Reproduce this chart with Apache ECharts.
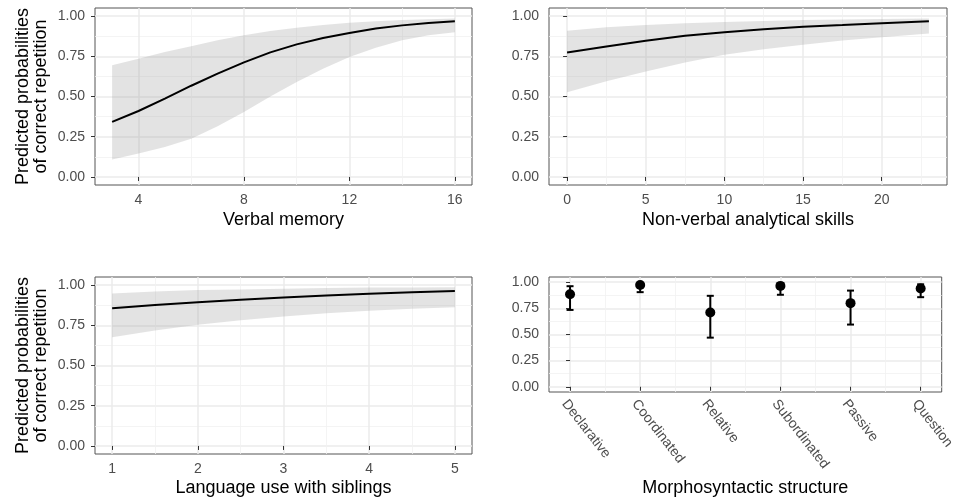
<!DOCTYPE html>
<html>
<head>
<meta charset="utf-8">
<script src="https://cdn.jsdelivr.net/npm/echarts@6/dist/echarts.min.js"></script>
<style>
  html, body { margin: 0; padding: 0; background: #fff; }
  #chart { width: 957px; height: 502px; }
</style>
</head>
<body>
<div id="chart"></div>
<script>
// panel 1: verbal memory
const memX = [3, 4, 5, 6, 7, 8, 9, 10, 11, 12, 13, 14, 15, 16];
const memFit = [0.342, 0.41, 0.487, 0.567, 0.642, 0.712, 0.774, 0.824, 0.864, 0.895, 0.922, 0.942, 0.957, 0.968];
const memLow = [0.108, 0.145, 0.186, 0.238, 0.315, 0.404, 0.50, 0.59, 0.673, 0.745, 0.803, 0.849, 0.88, 0.90];
const memHigh = [0.694, 0.735, 0.776, 0.812, 0.849, 0.88, 0.907, 0.928, 0.945, 0.958, 0.968, 0.975, 0.98, 0.985];

// panel 2: non-verbal analytical skills
const nvX = [0, 2.5, 5, 7.5, 10, 12.5, 15, 17.5, 20, 23];
const nvFit = [0.774, 0.811, 0.846, 0.877, 0.899, 0.918, 0.934, 0.944, 0.955, 0.967];
const nvLow = [0.527, 0.595, 0.656, 0.712, 0.759, 0.794, 0.821, 0.848, 0.868, 0.891];
const nvHigh = [0.909, 0.930, 0.944, 0.955, 0.963, 0.969, 0.975, 0.978, 0.981, 0.984];

// panel 3: language use with siblings
const sibX = [1, 1.5, 2, 2.5, 3, 3.5, 4, 4.5, 5];
const sibFit = [0.856, 0.876, 0.893, 0.909, 0.922, 0.935, 0.946, 0.955, 0.963];
const sibLow = [0.676, 0.718, 0.753, 0.781, 0.804, 0.824, 0.841, 0.852, 0.862];
const sibHigh = [0.948, 0.960, 0.969, 0.973, 0.977, 0.981, 0.984, 0.985, 0.986];

// panel 4: morphosyntactic structure
const structures = ['Declarative', 'Coordinated', 'Relative', 'Subordinated', 'Passive', 'Question'];
const structEst = [0.885, 0.974, 0.71, 0.965, 0.80, 0.94];
const structLow = [0.735, 0.905, 0.47, 0.88, 0.595, 0.857];
const structHigh = [0.962, 0.99, 0.87, 0.99, 0.92, 0.98];

// ticks
const yTicks = [0, 0.25, 0.5, 0.75, 1];
const yMinor = [0.125, 0.375, 0.625, 0.875];
const memTicks = [4, 8, 12, 16];
const memMinor = [6, 10, 14];
const nvTicks = [0, 5, 10, 15, 20];
const nvMinor = [2.5, 7.5, 12.5, 17.5, 22.5];
const sibTicks = [1, 2, 3, 4, 5];
const sibMinor = [1.5, 2.5, 3.5, 4.5];
const structTicks = [0, 1, 2, 3, 4, 5];
const structMinor = [0.5, 1.5, 2.5, 3.5, 4.5];

const yTitle = 'Predicted probabilities\nof correct repetition';
const FONT = '"Liberation Sans", Arial, sans-serif';
const gridColor = '#ebebeb';

const chart = echarts.init(document.getElementById('chart'));

function mainX(gi, min, max, ticks, name, gap, labelOpt) {
  return {
    gridIndex: gi, type: 'value', min: min, max: max,
    name: name, nameLocation: 'middle', nameGap: gap,
    nameTextStyle: { fontSize: 18, color: '#000', lineHeight: 18, fontFamily: FONT },
    axisLine: { show: false },
    axisTick: { show: true, length: 4, lineStyle: { color: '#333' }, customValues: ticks },
    axisLabel: Object.assign({ customValues: ticks, color: '#4d4d4d', fontSize: 14, margin: 8, fontFamily: FONT }, labelOpt || {}),
    splitLine: { show: true, lineStyle: { color: gridColor, width: 1.5 } }
  };
}
function minorAxis(gi, min, max, ticks, pos) {
  return {
    gridIndex: gi, type: 'value', min: min, max: max, position: pos,
    axisLine: { show: false },
    axisTick: { show: false, customValues: ticks },
    axisLabel: { show: false, customValues: ticks },
    splitLine: { show: true, lineStyle: { color: '#f1f1f1', width: 0.8 } }
  };
}
function mainY(gi, name) {
  return {
    gridIndex: gi, type: 'value', min: -0.05, max: 1.05,
    name: name || '', nameLocation: 'middle', nameGap: 45,
    nameTextStyle: { fontSize: 18, color: '#000', lineHeight: 18, fontFamily: FONT },
    axisLine: { show: false },
    axisTick: { show: true, length: 4, lineStyle: { color: '#333' }, customValues: yTicks },
    axisLabel: { customValues: yTicks, color: '#4d4d4d', fontSize: 14, margin: 10, fontFamily: FONT,
      formatter: v => v.toFixed(2) },
    splitLine: { show: true, lineStyle: { color: gridColor, width: 1.5 } }
  };
}

function ribbonItem(params, api) {
  if (params.dataIndexInside !== 0) return null;
  const n = params.dataInsideLength;
  const pts = [];
  for (let i = 0; i < n; i++) pts.push(api.coord([api.value(0, i), api.value(2, i)]));
  for (let i = n - 1; i >= 0; i--) pts.push(api.coord([api.value(0, i), api.value(1, i)]));
  return { type: 'polygon', shape: { points: pts }, style: { fill: 'rgba(150,150,150,0.27)' } };
}

function errItem(params, api) {
  const x = api.value(0);
  const lo = api.coord([x, api.value(1)]);
  const hi = api.coord([x, api.value(2)]);
  const w = 3.5;
  const st = { stroke: '#000', lineWidth: 2 };
  return {
    type: 'group', children: [
      { type: 'line', shape: { x1: lo[0], y1: lo[1], x2: hi[0], y2: hi[1] }, style: st },
      { type: 'line', shape: { x1: lo[0] - w, y1: lo[1], x2: lo[0] + w, y2: lo[1] }, style: st },
      { type: 'line', shape: { x1: hi[0] - w, y1: hi[1], x2: hi[0] + w, y2: hi[1] }, style: st }
    ]
  };
}

function ribbonSeries(axisIdx, xs, lo, hi) {
  return {
    type: 'custom', xAxisIndex: axisIdx, yAxisIndex: axisIdx,
    renderItem: ribbonItem, silent: true,
    encode: { x: 0, y: [1, 2] },
    data: xs.map((v, i) => [v, lo[i], hi[i]])
  };
}
function fitSeries(axisIdx, xs, fit) {
  return {
    type: 'line', xAxisIndex: axisIdx, yAxisIndex: axisIdx,
    showSymbol: false, smooth: false, silent: true,
    lineStyle: { color: '#000', width: 2 },
    data: xs.map((v, i) => [v, fit[i]])
  };
}

const grids = [
  { left: 95, top: 8, width: 377, height: 177 },
  { left: 549, top: 8, width: 398, height: 177 },
  { left: 95, top: 277, width: 377, height: 177 },
  { left: 549, top: 277, width: 398, height: 115 }
].map(g => Object.assign(g, { show: true, borderColor: '#555', borderWidth: 1, backgroundColor: '#fff' }));

const structIdx = structures.map((s, i) => i);

chart.setOption({
  animation: false,
  textStyle: { fontFamily: FONT },
  grid: grids,
  xAxis: [
    mainX(0, 2.35, 16.65, memTicks, 'Verbal memory', 26),
    minorAxis(0, 2.35, 16.65, memMinor, 'top'),
    mainX(1, -1.15, 24.15, nvTicks, 'Non-verbal analytical skills', 26),
    minorAxis(1, -1.15, 24.15, nvMinor, 'top'),
    mainX(2, 0.8, 5.2, sibTicks, 'Language use with siblings', 25),
    minorAxis(2, 0.8, 5.2, sibMinor, 'top'),
    mainX(3, -0.3, 5.3, structTicks, 'Morphosyntactic structure', 87,
      { rotate: -52, align: 'left', verticalAlign: 'top', margin: 5,
        formatter: v => structures[Math.round(v)] }),
    minorAxis(3, -0.3, 5.3, structMinor, 'top')
  ],
  yAxis: [
    mainY(0, yTitle), minorAxis(0, -0.05, 1.05, yMinor, 'right'),
    mainY(1), minorAxis(1, -0.05, 1.05, yMinor, 'right'),
    mainY(2, yTitle), minorAxis(2, -0.05, 1.05, yMinor, 'right'),
    mainY(3), minorAxis(3, -0.05, 1.05, yMinor, 'right')
  ],
  series: [
    ribbonSeries(0, memX, memLow, memHigh),
    fitSeries(0, memX, memFit),
    ribbonSeries(2, nvX, nvLow, nvHigh),
    fitSeries(2, nvX, nvFit),
    ribbonSeries(4, sibX, sibLow, sibHigh),
    fitSeries(4, sibX, sibFit),
    {
      type: 'custom', xAxisIndex: 6, yAxisIndex: 6, renderItem: errItem, silent: true,
      encode: { x: 0, y: [1, 2] },
      data: structIdx.map(i => [i, structLow[i], structHigh[i]])
    },
    {
      type: 'scatter', xAxisIndex: 6, yAxisIndex: 6, symbolSize: 10, silent: true,
      itemStyle: { color: '#000', opacity: 1 },
      data: structIdx.map(i => [i, structEst[i]])
    }
  ]
});
</script>
</body>
</html>
